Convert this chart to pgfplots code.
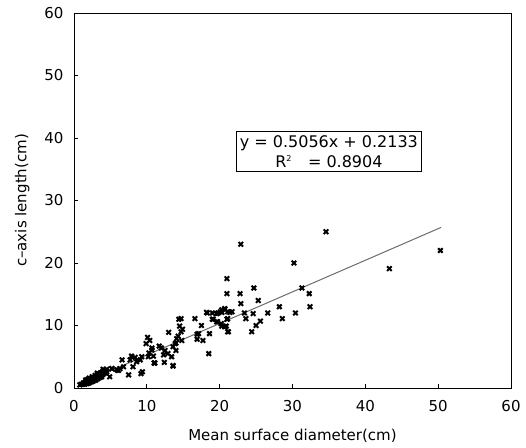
\documentclass[border=0pt]{standalone}
\usepackage{fontspec}
\setmainfont{DejaVu Sans}
\usepackage{pgfplots}
\pgfplotsset{compat=1.18}
\newcommand{\cf}{\fontsize{15bp}{18bp}\selectfont}
\begin{document}
\begin{tikzpicture}
\path[use as bounding box] (0,0) rectangle (526bp,448bp);
\begin{axis}[
 at={(74bp,60bp)}, anchor=south west,
 scale only axis, width=437bp, height=375bp,
 xmin=0,xmax=60,ymin=0,ymax=60,
 xtick={0,10,...,60}, ytick={0,10,...,60},
 tick align=inside, xtick pos=left, ytick pos=left,
 major tick length=4bp,
 /pgf/number format/assume math mode=true,
 tick label style={font=\cf},
 label style={font=\cf},
 yticklabel style={xshift=-7bp},
 xticklabel style={yshift=-9bp},
 xlabel style={yshift=-10bp},
 ylabel style={yshift=8bp},
 xlabel={Mean surface diameter(cm)},
 ylabel={c–axis length(cm)},
 axis line style={line width=0.8bp},
 tick style={line width=0.8bp, black},
 clip=false,
]
\addplot[gray!85!black, line width=1bp] coordinates {(1.0,0.719) (50.4,25.695)};
\addplot[only marks, mark=x, mark size=3.2bp, line width=2bp, black] table {
x y
0.8 0.5
1.0 0.6
1.2 0.6
1.3 0.8
1.4 0.7
1.5 0.9
1.5 0.6
1.6 1.0
1.7 0.8
1.8 1.1
1.8 0.7
1.9 0.9
2.0 1.2
2.0 0.8
2.1 1.0
2.2 1.3
2.2 0.9
2.3 1.1
2.4 1.4
2.4 1.0
2.5 1.2
2.6 1.5
2.6 1.1
2.7 1.3
2.8 1.6
2.8 1.2
2.9 1.4
3.0 1.8
3.0 1.3
3.1 1.6
3.2 2.0
3.3 1.5
3.4 1.8
3.5 2.2
3.6 1.7
3.7 2.4
3.8 2.0
3.9 2.6
4.0 2.2
4.2 2.8
4.3 2.4
4.5 2.6
1.6 1.3
2.1 1.6
2.5 1.8
3.2 2.4
2.9 2.0
1.9 1.4
4.0 2.4
4.5 3.0
5.2 3.1
5.9 2.9
6.3 3.1
4.9 1.8
3.2 2.2
3.8 1.8
4.0 3.0
5.2 3.1
6.1 2.8
6.6 4.5
6.8 3.4
7.5 2.1
7.7 4.5
7.9 5.1
8.1 3.4
8.4 4.9
8.6 4.2
9.1 4.5
9.3 5.0
9.4 2.6
9.2 2.3
9.9 7.1
10.1 8.1
10.4 7.6
10.7 6.1
10.3 5.6
10.2 5.0
11.1 4.0
10.7 6.4
11.7 6.7
12.0 6.4
12.5 6.0
12.9 5.5
13.4 5.0
12.3 5.3
10.9 5.1
11.0 4.0
12.4 4.1
13.6 3.5
13.6 3.6
13.0 8.9
14.3 8.3
14.8 7.6
14.0 7.2
13.6 6.6
14.0 6.0
13.9 7.1
14.1 7.9
14.4 11.0
14.7 11.1
14.5 9.9
14.9 9.4
14.7 9.0
16.6 11.1
17.5 10.0
17.1 8.7
18.6 8.7
16.9 7.8
17.7 7.6
18.5 5.5
16.9 8.6
18.3 12.0
19.0 12.0
19.8 12.0
20.3 12.1
20.7 12.6
21.4 12.1
19.1 11.0
19.6 10.6
20.2 10.3
21.0 11.0
20.7 9.8
21.2 9.0
19.7 10.6
19.6 11.9
20.1 12.2
20.7 12.6
21.1 12.2
21.7 12.2
20.3 12.5
20.7 12.7
19.0 11.0
18.2 12.1
34.6 25.0
22.9 23.0
30.2 20.0
43.3 19.1
50.3 22.0
21.0 17.5
21.0 15.1
22.8 15.1
24.7 16.0
31.3 16.0
32.3 15.1
22.9 13.5
25.3 14.0
23.4 12.0
24.6 11.9
26.6 12.0
28.2 13.0
32.4 13.0
30.4 12.0
23.6 11.1
28.6 11.1
25.6 10.7
25.0 10.0
24.4 9.0
21.1 11.1
20.9 9.9
21.1 9.0
20.3 9.9
};
\node[draw, line width=0.8bp, align=center, inner xsep=3bp, inner ysep=4bp, font=\fontsize{16bp}{20bp}\selectfont, fill=white] at (axis cs:35,37.8) {y = 0.5056x + 0.2133\\R\textsuperscript{\fontsize{8bp}{9bp}\selectfont 2}\quad = 0.8904};
\end{axis}
\end{tikzpicture}
\end{document}
